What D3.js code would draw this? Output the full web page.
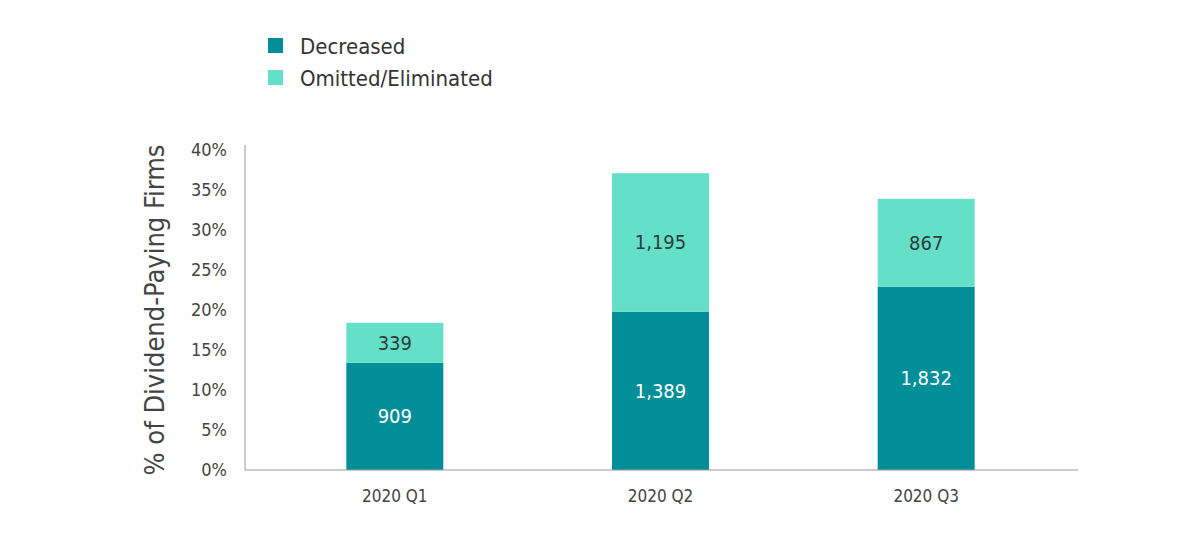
<!DOCTYPE html>
<html>
  <head>
    <meta charset="utf-8">
    <script src="https://d3js.org/d3.v7.min.js"></script>
    <style>
      body { margin: 0; background: #fff; }
      svg text { font-family: "Liberation Sans Narrow", "DejaVu Sans Condensed", "Roboto", sans-serif; }
      .tick text { fill: #444; }
    </style>
  </head>
<body>
  <script type="text/javascript">
    // chart values
    var quarters = ["2020 Q1", "2020 Q2", "2020 Q3"];
    var decreasedPct = [13.4, 19.8, 22.9];
    var omittedPct = [5.0, 17.3, 11.0];
    var decreasedCount = [909, 1389, 1832];
    var omittedCount = [339, 1195, 867];
    var seriesNames = ["Decreased", "Omitted/Eliminated"];
    var yTicks = [0, 5, 10, 15, 20, 25, 30, 35, 40];

    var colors = ["#008f99", "#64dfc8"];

    var svg = d3.select("body").append("svg")
      .attr("width", 1200)
      .attr("height", 538);

    var x = d3.scaleBand()
      .domain(quarters)
      .range([262, 1059])
      .paddingInner(0.635)
      .paddingOuter(0.3175);

    var y = d3.scaleLinear()
      .domain([0, 40])
      .range([470, 150]);

    // stacked data
    var rows = quarters.map(function(q, i) {
      return { q: q, dec: decreasedPct[i], om: omittedPct[i], decN: decreasedCount[i], omN: omittedCount[i] };
    });
    var stack = d3.stack().keys(["dec", "om"])(rows);

    var fmt = d3.format(",");

    //bars
    var layers = svg.selectAll("g.layer")
      .data(stack)
      .enter()
      .append("g")
      .attr("class", "layer")
      .attr("fill", function(d, i) { return colors[i]; });

    layers.selectAll("rect")
      .data(function(d) { return d; })
      .enter()
      .append("rect")
      .attr("x", function(d) { return x(d.data.q); })
      .attr("width", x.bandwidth())
      .attr("y", function(d) { return y(d[1]); })
      .attr("height", function(d) { return y(d[0]) - y(d[1]); });

    // value labels inside the segments
    layers.each(function(layer, li) {
      d3.select(this).selectAll("text")
        .data(layer)
        .enter()
        .append("text")
        .attr("x", function(d) { return x(d.data.q) + x.bandwidth() / 2; })
        .attr("y", function(d) { return (y(d[0]) + y(d[1])) / 2; })
        .attr("text-anchor", "middle")
        .attr("dominant-baseline", "central")
        .attr("font-size", 20)
        .attr("fill", li === 0 ? "#ffffff" : "#2f3b3b")
        .text(function(d) { return fmt(li === 0 ? d.data.decN : d.data.omN); });
    });

    // y axis
    var yAxis = svg.append("g")
      .attr("transform", "translate(245,0)")
      .call(d3.axisLeft(y).tickValues(yTicks).tickSize(0).tickPadding(18)
        .tickFormat(function(d) { return d + "%"; }));
    yAxis.select(".domain").attr("stroke", "#999").attr("d", "M0,145V470");
    yAxis.selectAll("text").attr("font-size", 18);

    // x axis
    var xAxis = svg.append("g")
      .attr("transform", "translate(0,470)")
      .call(d3.axisBottom(x).tickSize(0).tickPadding(20));
    xAxis.select(".domain").attr("stroke", "#999").attr("d", "M245,0H1078");
    xAxis.selectAll("text").attr("font-size", 17);

    // y axis title
    svg.append("text")
      .attr("transform", "translate(164,310) rotate(-90)")
      .attr("text-anchor", "middle")
      .attr("font-size", 27)
      .attr("fill", "#444")
      .text("% of Dividend-Paying Firms");

    // legend
    var legend = svg.selectAll("g.legend")
      .data(seriesNames)
      .enter()
      .append("g")
      .attr("class", "legend")
      .attr("transform", function(d, i) { return "translate(268," + (38 + i * 32) + ")"; });
    legend.append("rect")
      .attr("width", 15)
      .attr("height", 15)
      .attr("fill", function(d, i) { return colors[i]; });
    legend.append("text")
      .attr("x", 32)
      .attr("y", 8)
      .attr("dominant-baseline", "central")
      .attr("font-size", 22)
      .attr("fill", "#333")
      .text(function(d) { return d; });
  </script>
</body>
</html>
